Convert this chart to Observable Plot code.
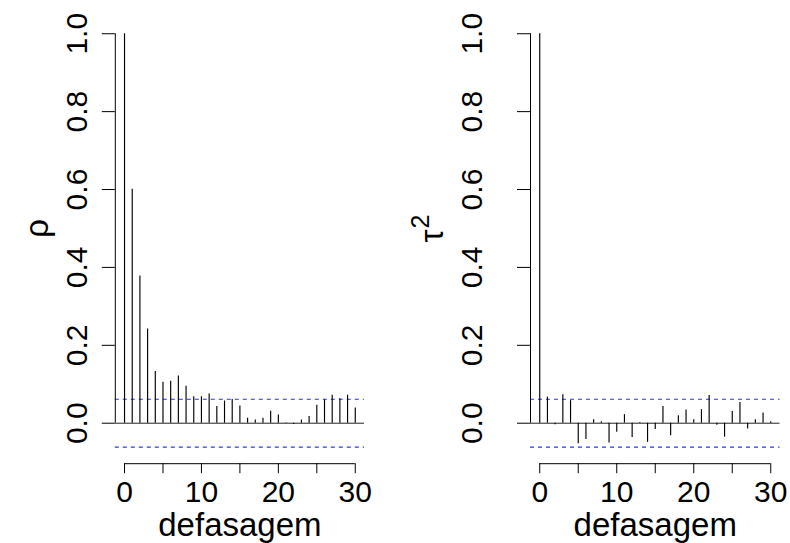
<!DOCTYPE html>
<html>
<head>
<meta charset="utf-8">
<script src="https://cdn.jsdelivr.net/npm/d3@7"></script>
<script src="https://cdn.jsdelivr.net/npm/@observablehq/plot@0.6"></script>
<style>
  body { margin: 0; background: #fff; }
  #row { display: flex; width: 790px; height: 543px; background: #fff; }
  #row svg { background: #fff; }
</style>
</head>
<body>
<div id="row"></div>
<script>
// ---- data ----
const lags = [0,1,2,3,4,5,6,7,8,9,10,11,12,13,14,15,16,17,18,19,20,21,22,23,24,25,26,27,28,29,30];
const rhoValues = [1.000,0.601,0.378,0.242,0.133,0.105,0.108,0.121,0.095,0.068,0.068,0.075,0.043,0.057,0.061,0.044,0.013,0.008,0.013,0.031,0.021,0.001,-0.003,0.008,0.017,0.046,0.060,0.072,0.063,0.072,0.039];
const tauValues = [1.000,0.067,-0.004,0.073,0.058,-0.053,-0.042,0.009,0.004,-0.051,-0.023,0.022,-0.037,0.002,-0.049,-0.016,0.043,-0.032,0.019,0.034,0.009,0.035,0.071,-0.005,-0.036,0.030,0.053,-0.015,0.009,0.026,0.004];
const confLimit = 0.0615;
const xTicks = [0,5,10,15,20,25,30];
const xTickLabels = [0,10,20,30];
const yTicks = [0,0.2,0.4,0.6,0.8,1.0];
const xLabel = "defasagem";
const yLabels = [{base: "ρ", sup: ""}, {base: "τ", sup: "2"}];

// R-style 4% axis extension
const xExt = (30 - 0) * 0.04;
const xDomain = [0 - xExt, 30 + xExt];
const yMin = -confLimit, yMax = 1;
const yExt = (yMax - yMin) * 0.04;
const yDomain = [yMin - yExt, yMax + yExt];

const FONT = "'Liberation Sans', Arial, Helvetica, sans-serif";
const fmt = d3.format(".1f");

function panel(values, ylab, marginLeft, marginRight) {
  const data = lags.map((l, i) => ({lag: l, v: values[i]}));
  const tickLabelX = 86;   // baseline of rotated y tick labels (panel px)
  const ylabX = 37;        // centre of y label (panel px)
  const svg = Plot.plot({
    width: 395,
    height: 543,
    marginLeft,
    marginRight,
    marginTop: 16.7,
    marginBottom: 79.8,
    style: {fontFamily: FONT, background: "#fff", overflow: "visible"},
    x: {domain: xDomain, ticks: xTicks, tickSize: 10, tickFormat: () => "", label: null},
    y: {domain: yDomain, ticks: yTicks, tickSize: 13, tickFormat: () => "", label: null},
    marks: [
      Plot.ruleY([confLimit, -confLimit], {stroke: "#2f2fff", strokeWidth: 1.1, strokeDasharray: "4,4"}),
      Plot.ruleY([0], {stroke: "#222"}),
      Plot.ruleX(data, {x: "lag", y1: 0, y2: "v", stroke: "#000", strokeWidth: 1.15}),
      Plot.ruleX([xDomain[0]], {y1: yTicks[0], y2: yTicks[yTicks.length - 1], stroke: "#000"}),
      Plot.ruleY([yDomain[0]], {x1: xTicks[0], x2: xTicks[xTicks.length - 1], stroke: "#000"}),
      Plot.text(xTickLabels, {x: d => d, frameAnchor: "bottom", dy: 38, lineAnchor: "bottom",
        text: d => String(d), fontSize: 30, fill: "#000"}),
      Plot.text(yTicks, {y: d => d, frameAnchor: "left", dx: tickLabelX - marginLeft, rotate: -90,
        textAnchor: "middle", lineAnchor: "bottom", text: d => fmt(d), fontSize: 30, fill: "#000"}),
      Plot.text([xLabel], {x: (xTicks[0] + xTicks[xTicks.length - 1]) / 2, frameAnchor: "bottom", dy: 72,
        lineAnchor: "bottom", text: d => d, fontSize: 33, fill: "#000"}),
      Plot.text([ylab], {y: (yTicks[0] + yTicks[yTicks.length - 1]) / 2, frameAnchor: "left",
        dx: ylabX - marginLeft, rotate: -90, textAnchor: "middle", lineAnchor: "middle",
        text: d => d.base + d.sup, fontSize: 33, fill: "#000", className: "ylab"})
    ]
  });
  // turn the superscript into a real raised, smaller tspan
  if (ylab.sup) {
    d3.select(svg).selectAll("g.ylab text").each(function() {
      const t = d3.select(this);
      t.text(null);
      t.append("tspan").text(ylab.base);
      t.append("tspan").attr("font-size", 25).attr("dy", "-0.55em").attr("dx", "1").text(ylab.sup);
    });
  }
  return svg;
}

const row = document.getElementById("row");
row.appendChild(panel(rhoValues, yLabels[0], 114.8, 31));
row.appendChild(panel(tauValues, yLabels[1], 135, 10.5));
</script>
</body>
</html>
